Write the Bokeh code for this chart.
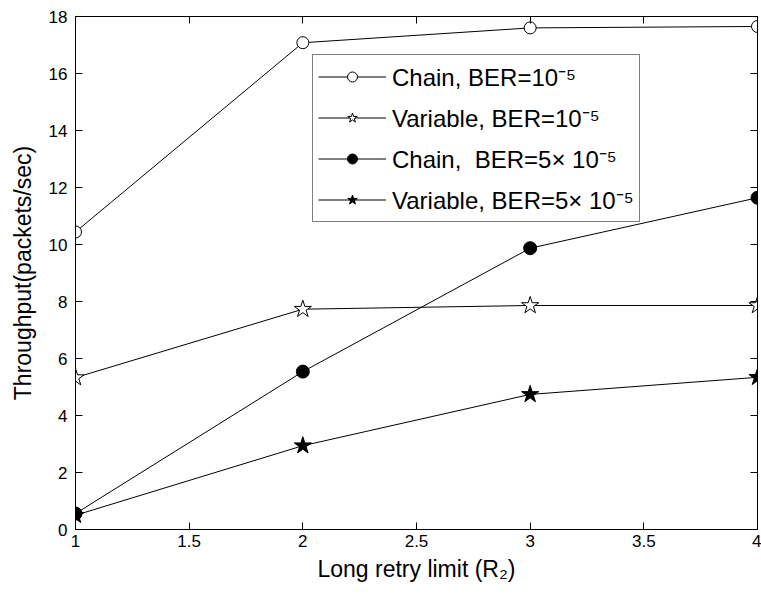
from bokeh.plotting import figure
from bokeh.models import LinearAxis, FixedTicker, Legend, LegendItem, Range1d
from bokeh.embed import file_html
from bokeh.resources import INLINE

# Long retry limit R2
retry_limit = [1, 2, 3, 4]

# Throughput (packets/sec) for each scheme / bit error rate
chain_ber_1e5 = [10.44, 17.08, 17.60, 17.65]
variable_ber_1e5 = [5.33, 7.73, 7.86, 7.86]
chain_ber_5e5 = [0.56, 5.54, 9.87, 11.64]
variable_ber_5e5 = [0.50, 2.94, 4.74, 5.34]

series_labels = [
    "Chain, BER=10⁻⁵",
    "Variable, BER=10⁻⁵",
    "Chain,  BER=5× 10⁻⁵",
    "Variable, BER=5× 10⁻⁵",
]

x_ticks = [1, 1.5, 2, 2.5, 3, 3.5, 4]
y_ticks = [0, 2, 4, 6, 8, 10, 12, 14, 16, 18]

FONT = "Liberation Sans"

p = figure(
    width=761, height=596,
    x_range=Range1d(1, 4), y_range=Range1d(0, 18),
    output_backend="svg", toolbar_location=None,
    min_border_left=75, min_border_right=4,
    min_border_top=16, min_border_bottom=67,
)
p.xgrid.visible = False
p.ygrid.visible = False
p.background_fill_color = "white"
p.border_fill_color = "white"
p.outline_line_color = "black"
p.outline_line_width = 1

# Main axes: MATLAB-style inward ticks
for ax, ticks in ((p.xaxis[0], x_ticks), (p.yaxis[0], y_ticks)):
    ax.ticker = FixedTicker(ticks=ticks)
    ax.major_tick_in = 7
    ax.major_tick_out = 0
    ax.minor_tick_line_color = None
    ax.axis_line_color = "black"
    ax.major_tick_line_color = "black"
    ax.major_label_text_font = FONT
    ax.major_label_text_font_size = "17px"
    ax.major_label_text_color = "black"
    ax.axis_label_text_font = FONT
    ax.axis_label_text_font_size = "23px"
    ax.axis_label_text_font_style = "normal"
    ax.axis_label_text_color = "black"

p.xaxis[0].axis_label = "Long retry limit (R₂)"
p.xaxis[0].major_label_standoff = 5
p.xaxis[0].axis_label_standoff = 6
p.yaxis[0].axis_label = "Throughput(packets/sec)"
p.yaxis[0].major_label_standoff = 8
p.yaxis[0].axis_label_standoff = 10

# Box ticks on the top and right edges (tick marks only, no labels)
for side, ticks in (("above", x_ticks), ("right", y_ticks)):
    ax = LinearAxis(ticker=FixedTicker(ticks=ticks))
    ax.major_tick_in = 7
    ax.major_tick_out = 0
    ax.minor_tick_line_color = None
    ax.major_label_text_color = None
    ax.major_label_text_font_size = "0px"
    ax.major_label_standoff = 0
    ax.axis_line_color = "black"
    p.add_layout(ax, side)

items = []

def add_series(values, marker, fill, size, label):
    ln = p.line(retry_limit, values, line_color="black", line_width=1)
    sc = p.scatter(retry_limit, values, marker=marker, size=size,
                   line_color="black", line_width=1, fill_color=fill)
    items.append(LegendItem(label=label, renderers=[ln, sc]))

add_series(chain_ber_1e5, "circle", "white", 12, series_labels[0])
add_series(variable_ber_1e5, "star", "white", 18, series_labels[1])
add_series(chain_ber_5e5, "circle", "black", 13, series_labels[2])
add_series(variable_ber_5e5, "star", "black", 18, series_labels[3])

legend = Legend(
    items=items,
    location=(237, 307),
    border_line_color="black",
    border_line_width=1,
    background_fill_color="white",
    background_fill_alpha=1,
    label_text_font=FONT,
    label_text_font_size="24px",
    label_text_color="black",
    glyph_width=68,
    glyph_height=25,
    label_standoff=6,
    label_height=27,
    padding=5,
    spacing=8,
    margin=0,
)
p.add_layout(legend)

open("out.html", "w").write(file_html(p, INLINE))
